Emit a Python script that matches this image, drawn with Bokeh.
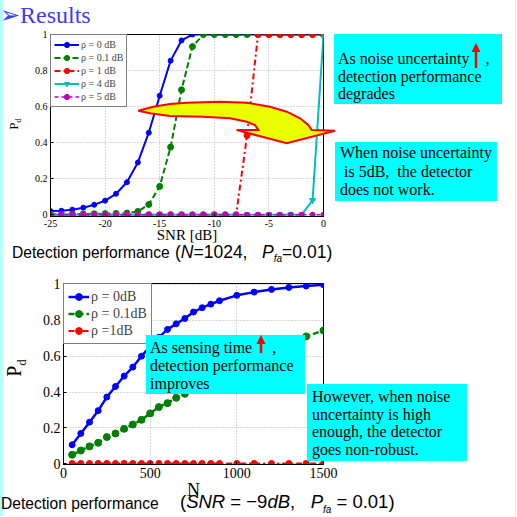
from bokeh.plotting import figure
from bokeh.layouts import column, row
from bokeh.models import Legend, LegendItem, Range1d, FixedTicker, Div, Spacer
from bokeh.embed import file_html
from bokeh.resources import INLINE

# ---------------- data: top chart (N = 1024, Pfa = 0.01) ----------------
snr_db = [-25, -24, -23, -22, -21, -20, -19, -18, -17, -16, -15, -14, -13,
          -12, -11, -10, -9, -8, -7, -6, -5, -4, -3, -2, -1, 0]
pd_rho_0 = [0.020, 0.022, 0.028, 0.039, 0.055, 0.078, 0.116, 0.180, 0.290, 0.455,
            0.660, 0.855, 0.967, 1.0, 1.0, 1.0, 1.0, 1.0, 1.0, 1.0, 1.0, 1.0, 1.0,
            1.0, 1.0, 1.0]
pd_rho_01 = [0.003, 0.003, 0.004, 0.004, 0.005, 0.006, 0.007, 0.009, 0.018, 0.057,
             0.157, 0.375, 0.693, 0.933, 1.0, 1.0, 1.0, 1.0, 1.0, 1.0, 1.0, 1.0,
             1.0, 1.0, 1.0, 1.0]
pd_rho_1 = [0.0, 0.0, 0.0, 0.0, 0.0, 0.0, 0.0, 0.0, 0.0, 0.0, 0.0, 0.0, 0.0, 0.0,
            0.0, 0.0, 0.0, 0.0, 0.44, 1.0, 1.0, 1.0, 1.0, 1.0, 1.0, 1.0]
pd_rho_4 = [0.0, 0.0, 0.0, 0.0, 0.0, 0.0, 0.0, 0.0, 0.0, 0.0, 0.0, 0.0, 0.0, 0.0,
            0.0, 0.0, 0.0, 0.0, 0.0, 0.0, 0.0, 0.0, 0.0, 0.0, 0.08, 1.0]
pd_rho_5 = [0.0, 0.0, 0.0, 0.0, 0.0, 0.0, 0.0, 0.0, 0.0, 0.0, 0.0, 0.0, 0.0, 0.0,
            0.0, 0.0, 0.0, 0.0, 0.0, 0.0, 0.0, 0.0, 0.0, 0.0, 0.0, 0.0]
top_labels = ["ρ = 0 dB", "ρ = 0.1 dB", "ρ = 1 dB", "ρ = 4 dB", "ρ = 5 dB"]
snr_ticks = [-25, -20, -15, -10, -5, 0]

# ---------------- data: bottom chart (SNR = -9 dB, Pfa = 0.01) ----------------
n_samples = [50, 100, 150, 200, 250, 300, 350, 400, 450, 500, 550, 600, 650, 700,
             750, 800, 850, 900, 1000, 1100, 1200, 1300, 1400, 1500]
pdn_rho_0 = [0.106, 0.169, 0.232, 0.296, 0.372, 0.431, 0.489, 0.539, 0.600, 0.655,
             0.705, 0.749, 0.780, 0.810, 0.846, 0.870, 0.890, 0.909, 0.939, 0.957,
             0.972, 0.983, 0.991, 0.998]
pdn_rho_01 = [0.050, 0.074, 0.097, 0.117, 0.149, 0.169, 0.195, 0.219, 0.245, 0.281,
              0.316, 0.338, 0.368, 0.390, 0.414, 0.437, 0.460, 0.482, 0.530, 0.575,
              0.620, 0.665, 0.710, 0.743]
pdn_rho_1 = [0.002, 0.002, 0.002, 0.002, 0.002, 0.002, 0.002, 0.002, 0.002, 0.002,
             0.002, 0.002, 0.002, 0.002, 0.002, 0.002, 0.002, 0.002, 0.002, 0.002,
             0.002, 0.002, 0.002, 0.002]
bottom_labels = ["ρ = 0dB", "ρ = 0.1dB", "ρ =1dB"]
n_ticks = [0, 500, 1000, 1500]
pd_ticks = [0, 0.2, 0.4, 0.6, 0.8, 1]

SERIF = "Liberation Serif"
SANS = "Liberation Sans"
BLUE, GREEN, RED, CYAN, MAGENTA = "#0000ff", "#008000", "#ff0000", "#00bfbf", "#bf00bf"
BOXC = "#00ffff"


def make_fig(width, height, xr, yr, bl, br, bt, bb, tick_x, tick_y, fs, xlabel, xl_fs, xl_off):
    p = figure(width=width, height=height,
               x_range=Range1d(*xr), y_range=Range1d(*yr),
               output_backend="svg", toolbar_location=None,
               min_border_left=bl, min_border_right=br,
               min_border_top=bt, min_border_bottom=bb)
    p.background_fill_color = "white"
    p.border_fill_color = "white"
    p.outline_line_color = "black"
    p.outline_line_width = 1
    p.xaxis.ticker = FixedTicker(ticks=tick_x)
    p.yaxis.ticker = FixedTicker(ticks=tick_y)
    p.yaxis.major_label_overrides = {t: f"{t:g}" for t in tick_y}
    p.xaxis.major_label_overrides = {t: f"{t:g}" for t in tick_x}
    for ax in (p.xaxis[0], p.yaxis[0]):
        ax.axis_line_color = "black"
        ax.major_tick_line_color = "black"
        ax.major_tick_in = 3
        ax.major_tick_out = 0
        ax.minor_tick_line_color = None
        ax.major_label_text_font = SERIF
        ax.major_label_text_font_size = fs
        ax.major_label_text_color = "black"
        ax.major_label_standoff = 3
    p.xaxis.axis_label = xlabel
    p.xaxis.axis_label_text_font = SERIF
    p.xaxis.axis_label_text_font_size = xl_fs
    p.xaxis.axis_label_text_font_style = "normal"
    p.xaxis.axis_label_text_color = "black"
    p.xaxis.axis_label_standoff = xl_off
    for gr in (p.xgrid[0], p.ygrid[0]):
        gr.grid_line_color = "#b0b0b0"
        gr.grid_line_dash = "1 2"
        gr.grid_line_width = 1
    return p


# ================================ TOP FIGURE ================================
p1 = make_fig(516, 262, (-25.0, 0.0), (-0.01, 1.0), 50, 193, 34, 46,
              snr_ticks, pd_ticks, "10px", "SNR [dB]", "15px", -3)
styles_top = [
    (pd_rho_0, BLUE, "solid", "circle", 5, 2),
    (pd_rho_01, GREEN, "6 3", "circle", 6, 2),
    (pd_rho_1, RED, "6 3 2 3", "circle", 6, 2),
    (pd_rho_4, CYAN, "solid", "inverted_triangle", 6, 2),
    (pd_rho_5, MAGENTA, "4 3", "circle", 5, 1.5),
]
items1 = []
for (ys, col, dash, mk, sz, lw), lab in zip(styles_top, top_labels):
    lr = p1.line(snr_db, ys, line_color=col, line_width=lw, line_dash=dash)
    sr = p1.scatter(snr_db, ys, marker=mk, size=sz, fill_color=col, line_color=col)
    items1.append(LegendItem(label=lab, renderers=[lr, sr]))
p1.add_layout(Legend(items=items1, location="top_left", margin=0, padding=3, spacing=0,
                     label_text_font=SERIF, label_text_font_size="10px", label_height=13,
                     glyph_width=25, glyph_height=13, label_standoff=2,
                     border_line_color="black", border_line_width=0.8,
                     background_fill_color="white", background_fill_alpha=1.0))

# =============================== BOTTOM FIGURE ===============================
p2 = make_fig(503, 254, (0.0, 1500.0), (-0.004, 1.005), 50, 193, 21, 52,
              n_ticks, pd_ticks, "14px", "N", "18px", -1)
styles_bot = [
    (pdn_rho_0, BLUE, "solid", 6, 2.5),
    (pdn_rho_01, GREEN, "6 3", 7, 2.5),
    (pdn_rho_1, RED, "6 3 2 3", 6, 2),
]
items2 = []
for (ys, col, dash, sz, lw), lab in zip(styles_bot, bottom_labels):
    lr = p2.line(n_samples, ys, line_color=col, line_width=lw, line_dash=dash)
    sr = p2.scatter(n_samples, ys, marker="circle", size=sz, fill_color=col, line_color=col)
    items2.append(LegendItem(label=lab, renderers=[lr, sr]))
p2.add_layout(Legend(items=items2, location="top_left", margin=0, padding=4, spacing=0,
                     label_text_font=SERIF, label_text_font_size="14px", label_height=17,
                     glyph_width=21, glyph_height=17, label_standoff=2,
                     border_line_color="black", border_line_width=0.8,
                     background_fill_color="white", background_fill_alpha=1.0))

# ======================= slide decorations (HTML overlay) =======================
def txt(left, cy, html, size, family=SERIF, color="black", extra=""):
    return (f'<div style="position:absolute;left:{left}px;top:{cy}px;transform:translateY(-50%);'
            f"font-family:'{family}';font-size:{size}px;line-height:1;white-space:nowrap;"
            f'color:{color};{extra}">{html}</div>')


def vtxt(cx, cy, html, size):
    return (f'<div style="position:absolute;left:{cx}px;top:{cy}px;'
            f'transform:translate(-50%,-50%) rotate(-90deg);'
            f"font-family:'{SERIF}';font-size:{size}px;line-height:1;white-space:nowrap;"
            f'color:black">{html}</div>')


def cyan_box(left, top, w, h, lines, first_cy, lh, pad=4, size=16):
    inner = "".join(txt(pad, first_cy - top + i * lh, s, size) for i, s in enumerate(lines))
    return (f'<div style="position:absolute;left:{left}px;top:{top}px;width:{w}px;height:{h}px;'
            f'background:{BOXC};overflow:hidden">{inner}</div>')


def red_up_arrow(x, y0, y1):
    return (f'<line x1="{x}" y1="{y0}" x2="{x}" y2="{y1 + 8}" stroke="{RED}" stroke-width="2.5"/>'
            f'<polygon points="{x - 4.5},{y1 + 9} {x + 4.5},{y1 + 9} {x},{y1}" fill="{RED}"/>')


yellow_px = [138.3, 153.3, 170, 186.7, 220, 246.7, 270, 286.7, 300, 308.3, 311.7, 335,
             286.7, 236.7, 258.3, 255, 246.7, 230, 203.3, 170, 150]
yellow_py = [110.7, 106.7, 104, 102.7, 101.7, 102.7, 106.7, 111.7, 118.3, 125, 130, 130.7,
             143.3, 130, 130, 125, 121.7, 118.3, 116.7, 116, 113.3]
yellow_pts = " ".join(f"{a},{b}" for a, b in zip(yellow_px, yellow_py))

SUB = '<sub style="font-size:10px"><i>fa</i></sub>'
parts = []
parts.append('<div style="position:absolute;left:0;top:0;width:3px;height:516px;background:#b4ffff"></div>')
parts.append('<div style="position:absolute;left:515px;top:0;width:1px;height:516px;background:#b4ffff"></div>')
parts.append(txt(0, 15, "➢Results", 24, color="#3c3cff"))
parts.append(vtxt(15, 124, 'P<sub style="font-size:9px">d</sub>', 13))
parts.append(vtxt(16, 368, 'P<sub style="font-size:13px">d</sub>', 20))
# captions
parts.append(txt(12, 253, "Detection performance", 15.6, SANS))
parts.append(txt(175, 254, f'(<i>N</i>=1024,&nbsp;&nbsp;&nbsp;<i>P</i>{SUB}=0.01)', 17.5, SANS))
parts.append(txt(1, 504, "Detection performance", 15.6, SANS))
parts.append(txt(180, 504, f'(<i>SNR</i> = −9<i>dB</i>,&nbsp;&nbsp;&nbsp;<i>P</i>{SUB} = 0.01)', 18.5, SANS))
# text boxes
parts.append(cyan_box(334, 34, 168, 70,
                      ["As noise uncertainty&nbsp;&nbsp;&nbsp;&nbsp;,", "detection performance", "degrades"],
                      59, 17.5))
parts.append(cyan_box(335, 142, 162, 59,
                      ["When noise uncertainty", "&nbsp;is 5dB,&nbsp; the detector", "does not work."],
                      153, 18.5, pad=5))
parts.append(cyan_box(146, 335, 159, 59,
                      ["As sensing time&nbsp;&nbsp;&nbsp;&nbsp;&nbsp;,", "detection performance", "improves"],
                      348, 18, pad=4))
parts.append(cyan_box(307, 384, 160, 77,
                      ["However, when noise", "uncertainty is high", "enough, the detector", "goes non-robust."],
                      397, 17.7, pad=5))
# arrows (yellow callout and red "increase" arrows)
parts.append('<svg width="516" height="516" style="position:absolute;left:0;top:0;overflow:visible">'
             f'<polygon points="{yellow_pts}" fill="#eaff00" stroke="{RED}" stroke-width="2" stroke-linejoin="miter"/>'
             + red_up_arrow(476, 68, 43) + red_up_arrow(261, 353, 335) + '</svg>')

overlay = Div(text=f'<div style="position:relative;width:516px;height:516px">{"".join(parts)}</div>',
              width=516, height=516, margin=0,
              styles={"position": "absolute", "left": "0px", "top": "0px", "z-index": "10",
                      "pointer-events": "none"})

layout = column(p1, row(Spacer(width=13, height=254), p2), overlay)
open("out.html", "w").write(file_html(layout, INLINE))
